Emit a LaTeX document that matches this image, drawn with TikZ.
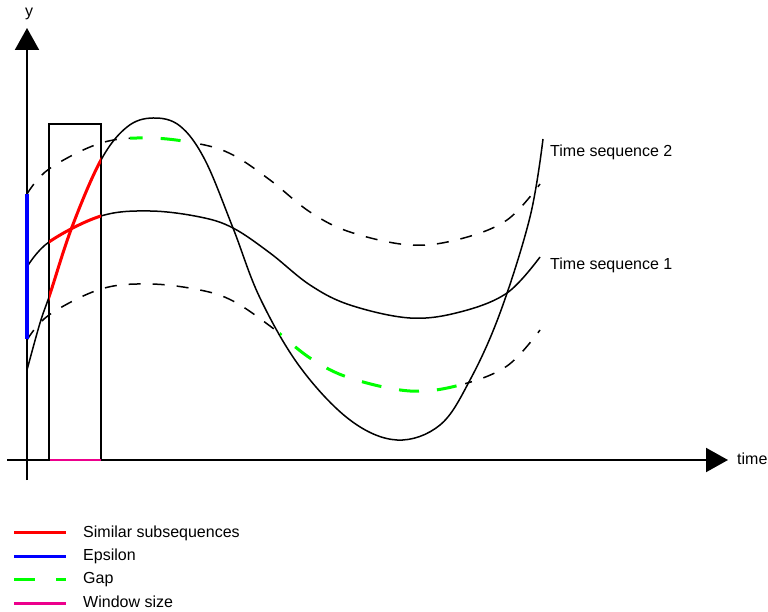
\documentclass[tikz,border=0pt]{standalone}
\usepackage{fontspec}
\setmainfont{Liberation Sans}
\usetikzlibrary{arrows.meta}
\begin{document}
\begin{tikzpicture}[x=1pt,y=-1pt,
  axis/.style={line width=2pt,-{Triangle[length=22pt,width=24pt]}},
  curve/.style={line width=1.5pt},
  band/.style={line width=1.5pt,dash pattern=on 12pt off 12pt},
  gapline/.style={line width=3pt,green,dash pattern=on 20pt off 18pt},
  hl/.style={line width=3pt},
  lbl/.style={font=\fontsize{16}{18}\selectfont,inner sep=0pt},
  tsone/.style={insert path={plot[smooth,tension=0.6] coordinates {(27,267) (49,242) (101,216) (150,211) (200,217) (233,228) (270,253) (310,285) (350,305) (410,318) (460,312) (507,293) (540,257)}}},
  tstwo/.style={insert path={plot[smooth,tension=0.6] coordinates {(27,370) (40,323) (50,294) (72,227) (101,160) (127,127) (153,118) (180,126) (205,160) (233,228) (260,298) (300,367) (350,420) (397,440) (440,425) (470,380) (500,313) (530,217) (543,139)}}}]
\useasboundingbox (0,0) rectangle (768,612);

% window
\draw[line width=1.5pt] (49,124) rectangle (101,460);

% time sequences
\draw[curve,tsone];
\draw[curve,tstwo];
\begin{scope}
  \clip (49,0) rectangle (101,470);
  \draw[hl,red,tsone];
  \draw[hl,red,tstwo];
\end{scope}

% upper band
\begin{scope}
  \clip (0,0) rectangle (130,612) (195,0) rectangle (768,612);
  \draw[band,yshift=73pt,tsone];
\end{scope}
\begin{scope}
  \clip (130,0) rectangle (195,612);
  \draw[gapline,yshift=73pt,tsone];
\end{scope}

% lower band
\begin{scope}
  \clip (0,0) rectangle (280,612) (465,0) rectangle (768,612);
  \draw[band,yshift=-73pt,tsone];
\end{scope}
\begin{scope}
  \clip (280,0) rectangle (465,612);
  \draw[gapline,yshift=-73pt,tsone];
\end{scope}

% axes
\coordinate (ybot) at (27,480);
\coordinate (ytop) at (27,28);
\coordinate (xl) at (7,460);
\coordinate (xr) at (728,460);
\draw[axis] (ybot) -- (ytop);
\draw[axis] (xl) -- (xr);
\coordinate (e1) at (27,194);
\coordinate (e2) at (27,339);
\draw[line width=3.3pt,blue] (e1) -- (e2);
\coordinate (w1) at (50,460);
\coordinate (w2) at (101,460);
\draw[line width=2.5pt,magenta] (w1) -- (w2);

% labels
\node[lbl,anchor=base] (ylab) at (29,17) {y};
\node[lbl,anchor=base west] (tlab) at (737,464) {time};
\node[lbl,anchor=base west] (ts2) at (550,157) {Time sequence 2};
\node[lbl,anchor=base west] (ts1) at (550,270) {Time sequence 1};

% legend
\coordinate (l1a) at (14,532); \coordinate (l1b) at (66,532);
\coordinate (l2a) at (14,556); \coordinate (l2b) at (66,556);
\coordinate (l3a) at (14,579); \coordinate (l3b) at (66,579);
\coordinate (l4a) at (14,603); \coordinate (l4b) at (66,603);
\draw[hl,red] (l1a) -- (l1b);
\draw[hl,blue] (l2a) -- (l2b);
\draw[hl,green,dash pattern=on 21pt off 21pt] (l3a) -- (l3b);
\draw[hl,magenta] (l4a) -- (l4b);
\node[lbl,anchor=base west] (lg1) at (83,537) {Similar subsequences};
\node[lbl,anchor=base west] (lg2) at (83,560) {Epsilon};
\node[lbl,anchor=base west] (lg3) at (83,583) {Gap};
\node[lbl,anchor=base west] (lg4) at (83,607) {Window size};
\end{tikzpicture}
\end{document}
